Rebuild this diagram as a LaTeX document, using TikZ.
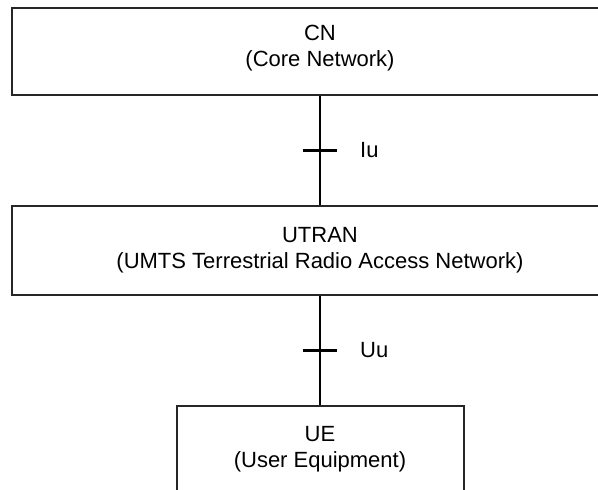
\documentclass[tikz,border=0pt]{standalone}
\usepackage{fontspec}
\setmainfont{Liberation Sans}
\begin{document}
\begin{tikzpicture}[x=1pt,y=-1pt,
  box/.style={draw=black!85, line width=2pt, rectangle, inner sep=0pt},
  lbl/.style={align=center, inner sep=0pt, font=\fontsize{22}{25.5}\selectfont},
  iface/.style={anchor=west, inner sep=0pt, font=\fontsize{22}{25.5}\selectfont},
  conn/.style={draw=black, line width=1.5pt},
  tick/.style={draw=black, line width=3pt}]
\useasboundingbox (0,0) rectangle (598,490);
\clip (0,0) rectangle (598,490);
\node[box, minimum width=616pt, minimum height=87pt] (cn) at (320,51.5) {};
\node[box, minimum width=616pt, minimum height=89pt] (utran) at (320,250.5) {};
\node[box, minimum width=287pt, minimum height=120pt] (ue) at (320.5,466) {};
\node[lbl] (cnt) at (320,48.3) {CN\\(Core Network)};
\node[lbl] (utrant) at (320,250.3) {UTRAN\\(UMTS Terrestrial Radio Access Network)};
\node[lbl] (uet) at (320,449.3) {UE\\(User Equipment)};
\draw[conn] (cn.south) -- (utran.north) coordinate[pos=0.5] (iumid);
\draw[conn] (utran.south) -- (utran.south |- ue.north) coordinate[pos=0.5] (uumid);
\coordinate (iul) at ([xshift=-17pt]iumid);
\coordinate (iur) at ([xshift=17pt]iumid);
\draw[tick] (iul) -- (iur);
\coordinate (uul) at ([xshift=-17pt]uumid);
\coordinate (uur) at ([xshift=17pt]uumid);
\draw[tick] (uul) -- (uur);
\node[iface] (iu) at ([xshift=40pt]iumid) {Iu};
\node[iface] (uu) at ([xshift=40pt]uumid) {Uu};
\end{tikzpicture}
\end{document}
